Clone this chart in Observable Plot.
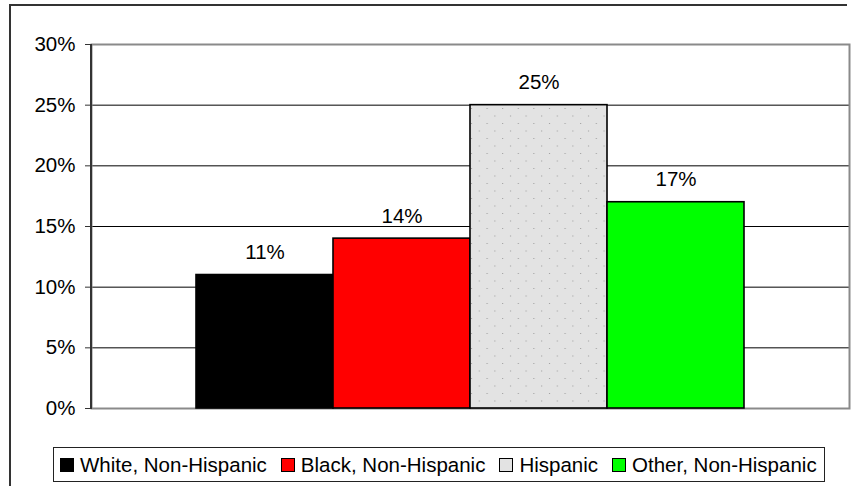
<!DOCTYPE html>
<html>
<head>
<meta charset="utf-8">
<script src="https://cdn.jsdelivr.net/npm/d3@7"></script>
<script src="https://cdn.jsdelivr.net/npm/@observablehq/plot@0.6"></script>
<style>
  html, body { margin: 0; padding: 0; background: #fff; }
  #wrap { position: relative; width: 857px; height: 486px; overflow: hidden; font-family: "Liberation Sans", Arial, sans-serif; }
  #frame { position: absolute; left: 9px; top: 4px; width: 836px; height: 500px; border-left: 2px solid #333; border-top: 2px solid #333; }
  #chart { position: absolute; left: 0; top: 0; }
  #legend { position: absolute; left: 53px; top: 447px; width: 772px; height: 35px; border: 1px solid #222; box-sizing: border-box;
            display: flex; align-items: center; padding-left: 6px; font-size: 20.5px; color: #000; white-space: nowrap; }
  .item { display: flex; align-items: center; margin-right: 14px; }
  .sw { width: 12px; height: 12px; border: 1.5px solid #000; margin-right: 6px; }
</style>
</head>
<body>
<div id="wrap">
  <div id="frame"></div>
  <div id="chart"></div>
  <div id="legend"></div>
</div>
<script>
const categories = ["White, Non-Hispanic", "Black, Non-Hispanic", "Hispanic", "Other, Non-Hispanic"];
const values = [0.11, 0.14, 0.25, 0.17];
const barFills = ["#000000", "#ff0000", "url(#dots)", "#00ff00"];
const legendFills = ["#000000", "#ff0000", "#e3e3e3", "#00ff00"];
const yTicks = [0, 0.05, 0.10, 0.15, 0.20, 0.25, 0.30];

const data = categories.map((c, i) => ({category: c, value: values[i]}));
const pct = d3.format(".0%");

const chart = Plot.plot({
  width: 857,
  height: 440,
  marginLeft: 91,
  marginRight: 8,
  marginTop: 44,
  marginBottom: 32,
  style: {fontFamily: "'Liberation Sans', Arial, sans-serif", fontSize: "20px", color: "#000", background: "transparent", overflow: "visible"},
  x: {domain: categories, paddingInner: 0, paddingOuter: 0.752, axis: null},
  y: {domain: [0, 0.30], label: null},
  color: {domain: categories, range: barFills},
  marks: [
    Plot.gridY(yTicks.slice(1, -1), {stroke: "#000", strokeOpacity: 1, strokeWidth: 1}),
    Plot.frame({stroke: "#8a8a8a", strokeWidth: 2}),
    Plot.barY(data, {x: "category", y: "value", fill: "category", stroke: "#000", strokeWidth: 1.6}),
    Plot.text(data, {x: "category", y: "value", text: d => pct(d.value), lineAnchor: "bottom", dy: -16, fontSize: 20.5, fill: "#000"}),
    Plot.axisY(yTicks, {tickFormat: pct, tickSize: 6, tickPadding: 10, stroke: "#333", fill: "#000", fontSize: 20.5, label: null})
  ]
});

// dotted pattern for Hispanic bar
const svg = d3.select(chart);
const defs = svg.insert("defs", ":first-child");
const pat = defs.append("pattern").attr("id", "dots").attr("patternUnits", "userSpaceOnUse")
  .attr("width", 15.6).attr("height", 15);
pat.append("rect").attr("width", 15.6).attr("height", 15).attr("fill", "#e3e3e3");
pat.append("rect").attr("x", 3).attr("y", 3).attr("width", 1).attr("height", 1).attr("fill", "#9a9a9a");
pat.append("rect").attr("x", 10.8).attr("y", 10.5).attr("width", 1).attr("height", 1).attr("fill", "#9a9a9a");

// left value axis line
const y = chart.scale("y");
svg.append("line")
  .attr("x1", 91).attr("x2", 91)
  .attr("y1", y.apply(0.30)).attr("y2", y.apply(0) + 1)
  .attr("stroke", "#333").attr("stroke-width", 2);

document.getElementById("chart").appendChild(chart);

// legend
const legend = d3.select("#legend");
categories.forEach((c, i) => {
  const it = legend.append("div").attr("class", "item");
  it.append("div").attr("class", "sw").style("background", legendFills[i]);
  it.append("span").text(c);
});
</script>
</body>
</html>
